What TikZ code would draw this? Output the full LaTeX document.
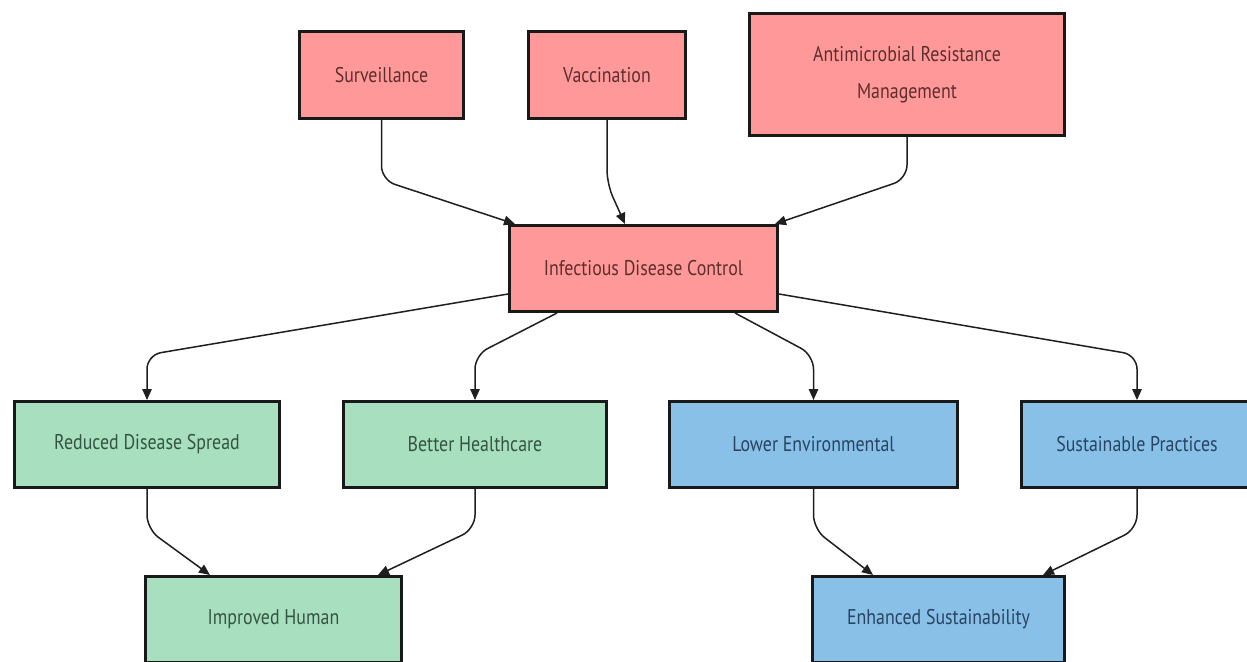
\documentclass[tikz,border=0pt]{standalone}
\usepackage{fontspec}
\setmainfont{PT Sans}[FakeStretch=0.84]
\usetikzlibrary{arrows.meta,calc}
\definecolor{redfill}{HTML}{FF9999}
\definecolor{greenfill}{HTML}{A8DFBE}
\definecolor{bluefill}{HTML}{88C0E8}
\definecolor{redtext}{HTML}{5E2E2E}
\definecolor{greentext}{HTML}{345444}
\definecolor{bluetext}{HTML}{284462}
\tikzset{
  box/.style={draw=black!90, line width=3pt, align=center, inner sep=0pt,
    font=\fontsize{21.3}{37}\selectfont},
  redbox/.style={box, fill=redfill, text=redtext},
  greenbox/.style={box, fill=greenfill, text=greentext},
  bluebox/.style={box, fill=bluefill, text=bluetext},
  conn/.style={draw=black!88, line width=1.5pt, rounded corners=14pt,
    -{Triangle[length=11pt,width=9.5pt]}},
}
\begin{document}
\begin{tikzpicture}[x=1pt,y=-1pt]
\clip (0,0) rectangle (1247,661);
\fill[white] (0,0) rectangle (1247,661);
\node[redbox, minimum width=164, minimum height=87] (surv) at (381.5,75) {Surveillance};
\node[redbox, minimum width=157, minimum height=87] (vacc) at (607,75) {Vaccination};
\node[redbox, minimum width=315, minimum height=122] (amr) at (907,74.5) {Antimicrobial Resistance\\Management};
\node[redbox, minimum width=268, minimum height=86] (idc) at (643.5,268.5) {Infectious Disease Control};
\node[greenbox, minimum width=265, minimum height=86] (red) at (147,444.5) {Reduced Disease Spread};
\node[greenbox, minimum width=263, minimum height=86] (bet) at (475,444.5) {Better Healthcare};
\node[bluebox, minimum width=288, minimum height=86] (low) at (813.5,444.5) {Lower Environmental};
\node[bluebox, minimum width=231, minimum height=86] (sus) at (1137,444.5) {Sustainable Practices};
\node[greenbox, minimum width=256, minimum height=86] (imp) at (273.5,619.5) {Improved Human};
\node[bluebox, minimum width=252, minimum height=86] (enh) at (938.5,619.5) {Enhanced Sustainability};

\draw[conn] (surv.south) -- ($(surv.south)+(0,60)$) -- ($(idc.north west)+(7,0)$);
\draw[conn] (vacc.south) -- ($(vacc.south)+(0,64)$) -- ($(idc.north west)+(117,0)$);
\draw[conn] (amr.south) -- ($(amr.south)+(0,42)$) -- ($(idc.north east)+(-4,0)$);

\draw[conn] ($(idc.south west)+(0,-19)$) -- ($(red.north)+(0,-45)$) -- (red.north);
\draw[conn] ($(idc.south west)+(49,0)$) -- ($(bet.north)+(0,-45)$) -- (bet.north);
\draw[conn] ($(idc.south east)+(-44,0)$) -- ($(low.north)+(0,-45)$) -- (low.north);
\draw[conn] ($(idc.south east)+(0,-19)$) -- ($(sus.north)+(0,-45)$) -- (sus.north);

\draw[conn] (red.south) -- ($(red.south)+(0,40)$) -- ($(imp.north west)+(66,0)$);
\draw[conn] (bet.south) -- ($(bet.south)+(0,40)$) -- ($(imp.north east)+(-25,0)$);
\draw[conn] (low.south) -- ($(low.south)+(0,40)$) -- ($(enh.north west)+(62,0)$);
\draw[conn] (sus.south) -- ($(sus.south)+(0,40)$) -- ($(enh.north east)+(-23,0)$);
\end{tikzpicture}
\end{document}
